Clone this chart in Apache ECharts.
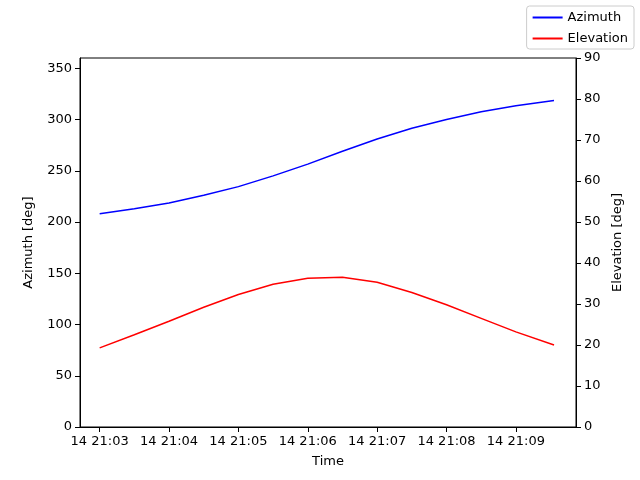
<!DOCTYPE html><html><head><meta charset="utf-8"><script src="https://cdn.jsdelivr.net/npm/echarts@6/dist/echarts.min.js"></script></head><body style="margin:0"><div id="c" style="width:640px;height:480px"></div><script>
const times=[0,30,60,90,120,150,180,210,240,270,300,330,360,393];
const tickTimes=[0,60,120,180,240,300,360];
const tickLabels=['14 21:03','14 21:04','14 21:05','14 21:06','14 21:07','14 21:08','14 21:09'];
const azimuth=[208,213,218.5,226,234.5,245,256.5,269,281,291.5,300,307.5,313.5,318.5];
const elevation=[19.3,22.5,25.8,29.2,32.3,34.8,36.3,36.5,35.3,32.8,29.8,26.5,23.2,20];
const f='DejaVu Sans';
const ch=echarts.init(document.getElementById('c'));
ch.setOption({animation:false,textStyle:{fontFamily:f},
legend:{right:6,top:6,orient:'vertical',itemWidth:30,itemHeight:2,itemGap:8,icon:'rect',borderColor:'#ccc',borderWidth:1,borderRadius:3,padding:[5,6,4,6],textStyle:{fontSize:13,fontFamily:f,color:'#000'},data:['Azimuth','Elevation']},
grid:{left:80,right:64,top:58,bottom:53,show:true,borderColor:'#000',borderWidth:1,backgroundColor:'transparent'},
xAxis:{type:'value',min:-17,max:412,name:'Time',nameLocation:'middle',nameGap:28,nameTextStyle:{fontSize:13,color:'#000'},
axisLine:{onZero:false,lineStyle:{color:'#000'}},splitLine:{show:false},
axisTick:{customValues:tickTimes,lineStyle:{color:'#000'}},
axisLabel:{customValues:tickTimes,fontSize:13,color:'#000',formatter:v=>tickLabels[tickTimes.indexOf(v)]}},
yAxis:[{type:'value',min:0,max:360,interval:50,name:'Azimuth [deg]',nameLocation:'middle',nameGap:45,nameTextStyle:{fontSize:13,color:'#000'},axisLine:{show:true,onZero:false,lineStyle:{color:'#000'}},axisTick:{show:true},splitLine:{show:false},axisLabel:{fontSize:13,color:'#000'}},
{type:'value',min:0,max:90,interval:10,name:'Elevation [deg]',nameLocation:'middle',nameGap:35,nameTextStyle:{fontSize:13,color:'#000'},axisLine:{show:true,onZero:false,lineStyle:{color:'#000'}},axisTick:{show:true},splitLine:{show:false},axisLabel:{fontSize:13,color:'#000'}}],
series:[{name:'Azimuth',type:'line',symbol:'none',color:'blue',lineStyle:{width:1.5},data:times.map((t,i)=>[t,azimuth[i]])},
{name:'Elevation',type:'line',yAxisIndex:1,symbol:'none',color:'red',lineStyle:{width:1.5},data:times.map((t,i)=>[t,elevation[i]])}]});
</script></body></html>
